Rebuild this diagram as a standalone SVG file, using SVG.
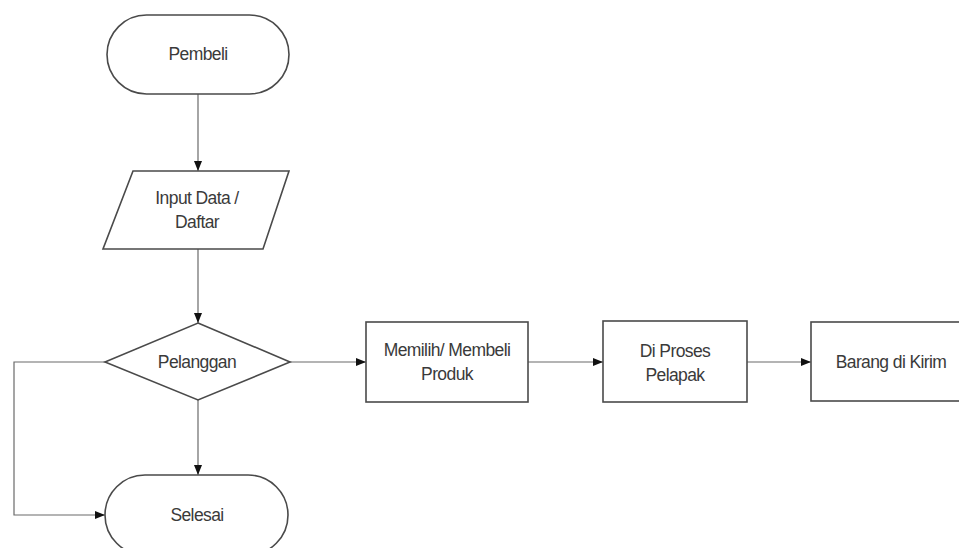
<svg xmlns="http://www.w3.org/2000/svg" width="959" height="548" viewBox="0 0 959 548">
<style>
.s{fill:#fff;stroke:#4a4a4a;stroke-width:1.6}
.t{font-family:"Liberation Sans",Arial,sans-serif;font-size:17.5px;fill:#3a3a3a;text-anchor:middle;letter-spacing:-0.6px}
.c{fill:none;stroke:#6a6a6a;stroke-width:1.2}
</style>
<defs>
<marker id="a" viewBox="0 0 10 10" refX="10" refY="5" markerWidth="10" markerHeight="10" markerUnits="userSpaceOnUse" orient="auto">
<path d="M0,1 L10,5 L0,9 Z" fill="#111"/>
</marker>
</defs>
<rect width="959" height="548" fill="#fff"/>
<g id="connectors">
<path class="c" d="M198,94 L198,171" marker-end="url(#a)"/>
<path class="c" d="M198,249 L198,323" marker-end="url(#a)"/>
<path class="c" d="M198,400 L198,475" marker-end="url(#a)"/>
<path class="c" d="M105,362 L14,362 L14,515 L105,515" marker-end="url(#a)"/>
<path class="c" d="M290,362 L366,362" marker-end="url(#a)"/>
<path class="c" d="M528,362 L603,362" marker-end="url(#a)"/>
<path class="c" d="M747,362 L811,362" marker-end="url(#a)"/>
</g>
<g id="pembeli">
<rect class="s" x="107" y="15" width="182" height="79" rx="39.5"/>
<text class="t" x="198" y="60">Pembeli</text>
</g>
<g id="input">
<polygon class="s" points="133,171 289,171 263,249 103,249"/>
<text class="t" x="197" y="204">Input Data /</text>
<text class="t" x="197" y="228">Daftar</text>
</g>
<g id="pelanggan">
<polygon class="s" points="198,323 290,362 198,400 105,362"/>
<text class="t" x="197" y="368">Pelanggan</text>
</g>
<g id="selesai">
<rect class="s" x="105" y="475" width="183" height="80" rx="40"/>
<text class="t" x="197" y="521">Selesai</text>
</g>
<g id="memilih">
<rect class="s" x="366" y="322" width="162" height="80"/>
<text class="t" x="447" y="356">Memilih/ Membeli</text>
<text class="t" x="447" y="380">Produk</text>
</g>
<g id="proses">
<rect class="s" x="603" y="321" width="144" height="81"/>
<text class="t" x="675" y="357">Di Proses</text>
<text class="t" x="675" y="381">Pelapak</text>
</g>
<g id="barang">
<rect class="s" x="811" y="322" width="170" height="79"/>
<text class="t" x="891" y="368">Barang di Kirim</text>
</g>
</svg>
